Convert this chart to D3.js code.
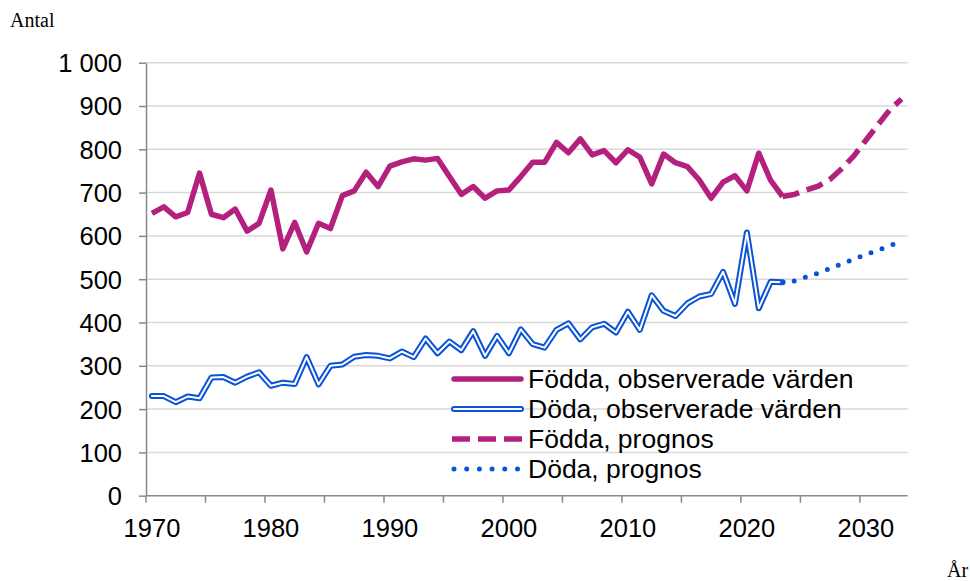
<!DOCTYPE html>
<meta charset="utf-8">
<style>
body { margin: 0; background: #fff; }
.tick text { font: 25.5px "Liberation Sans", Arial, sans-serif; fill: #000; }
.grid line { stroke: #d9d9d9; stroke-width: 1.5; }
.legend text { font: 26.5px "Liberation Sans", Arial, sans-serif; fill: #000; }
.title { font: 20px "Liberation Serif", "Times New Roman", serif; fill: #000; }
</style>
<head>
<script src="https://cdn.jsdelivr.net/npm/d3@7"></script>
</head>
<body>
<script>
var obsYears = d3.range(1970, 2024);
var progYears = d3.range(2023, 2034);

var foddaObs = [652, 667, 644, 654, 745, 650, 642, 662, 611, 629,
                706, 570, 631, 563, 629, 617, 693, 704, 747, 714,
                761, 771, 778, 775, 779, 737, 696, 714, 687, 704,
                706, 737, 770, 770, 816, 792, 824, 787, 797, 769,
                799, 782, 720, 789, 769, 760, 729, 687, 724, 739,
                704, 791, 728, 691];
var dodaObs = [230, 230, 216, 229, 225, 273, 274, 261, 275, 285,
               254, 261, 258, 320, 257, 300, 303, 321, 325, 323,
               317, 333, 320, 363, 329, 356, 336, 380, 323, 369,
               329, 384, 350, 342, 383, 398, 361, 389, 397, 377,
               425, 383, 463, 427, 415, 444, 460, 466, 517, 443,
               608, 433, 494, 493];
var foddaProg = [691, 696, 706, 715, 731, 756, 785, 821, 856, 891, 916];
var dodaProg = [493, 496, 505, 514, 525, 536, 546, 557, 567, 577, 588];

var yTicks = [0, 100, 200, 300, 400, 500, 600, 700, 800, 900, 1000];
var xLabels = [1970, 1980, 1990, 2000, 2010, 2020, 2030];
var xTickYears = d3.range(1970, 2031, 5);
var legendLabels = ["Födda, observerade värden", "Döda, observerade värden", "Födda, prognos", "Döda, prognos"];

var magenta = "#b3207e", blue = "#0b53d6";
var margin = {top: 62.7, left: 146, right: 62.5, bottom: 85.3},
    width = 970 - margin.left - margin.right,
    height = 581 - margin.top - margin.bottom;

var svg = d3.select("body").append("svg")
    .attr("width", 970)
    .attr("height", 581);

var g = svg.append("g")
    .attr("transform", "translate(" + margin.left + "," + margin.top + ")");

var x = d3.scaleBand().domain(d3.range(1970, 2034)).range([0, width]);
var y = d3.scaleLinear().domain([0, 1000]).range([height, 0]);
function cx(yr) { return x(yr) + x.bandwidth() / 2; }

// gridlines
g.append("g").attr("class", "grid")
  .selectAll("line").data(yTicks.slice(1))
  .enter().append("line")
    .attr("x1", 0).attr("x2", width)
    .attr("y1", d => y(d)).attr("y2", d => y(d));

// y axis
var yAxis = g.append("g")
    .call(d3.axisLeft(y).tickValues(yTicks).tickSize(7).tickSizeOuter(0).tickPadding(17)
      .tickFormat(d => d === 1000 ? "1 000" : d));
yAxis.selectAll("text").attr("dy", "0.35em");

// x axis
var xAxis = g.append("g").attr("transform", "translate(0," + height + ")");
xAxis.append("line").attr("x1", 0).attr("x2", width).attr("stroke", "#898989").attr("stroke-width", 1.5);
xAxis.selectAll("line.tk").data(xTickYears).enter().append("line")
    .attr("class", "tk")
    .attr("x1", d => x(d)).attr("x2", d => x(d))
    .attr("y1", 0).attr("y2", 7)
    .attr("stroke", "#898989").attr("stroke-width", 1.5);
xAxis.selectAll("text").data(xLabels).enter().append("text")
    .attr("x", d => cx(d)).attr("y", 41)
    .attr("text-anchor", "middle")
    .style("font", "25.5px 'Liberation Sans', Arial, sans-serif")
    .text(d => d);

yAxis.select(".domain").attr("stroke", "#898989").attr("stroke-width", 1.5);
yAxis.selectAll(".tick line").attr("stroke", "#898989").attr("stroke-width", 1.5);

var line = d3.line().x(d => cx(d[0])).y(d => y(d[1]));

// döda observed (double line)
var dodaPts = d3.zip(obsYears, dodaObs);
g.append("path").attr("d", line(dodaPts)).attr("fill", "none")
    .attr("stroke", blue).attr("stroke-width", 6).attr("stroke-linejoin", "round").attr("stroke-linecap", "round");
g.append("path").attr("d", line(dodaPts)).attr("fill", "none")
    .attr("stroke", "#fff").attr("stroke-width", 2).attr("stroke-linejoin", "round").attr("stroke-linecap", "round");

// döda prognos
g.append("path").attr("d", line(d3.zip(progYears, dodaProg))).attr("fill", "none")
    .attr("stroke", blue).attr("stroke-width", 5).attr("stroke-linecap", "round")
    .attr("stroke-dasharray", "0 11.7");

// födda observed
g.append("path").attr("d", line(d3.zip(obsYears, foddaObs))).attr("fill", "none")
    .attr("stroke", magenta).attr("stroke-width", 5.5).attr("stroke-linejoin", "round");

// födda prognos
g.append("path").attr("d", line(d3.zip(progYears, foddaProg))).attr("fill", "none")
    .attr("stroke", magenta).attr("stroke-width", 5.5)
    .attr("stroke-dasharray", "17 8");

// legend
var legend = svg.append("g").attr("class", "legend").attr("transform", "translate(452,379)");
var rows = legend.selectAll("g").data(legendLabels).enter().append("g")
    .attr("transform", (d, i) => "translate(0," + i * 30 + ")");
rows.append("text").attr("x", 76).attr("dy", "0.35em").text(d => d);

legend.append("line").attr("x1", 2).attr("x2", 69).attr("y1", 0).attr("y2", 0)
    .attr("stroke", magenta).attr("stroke-width", 5.5).attr("stroke-linecap", "round");
legend.append("line").attr("x1", 2).attr("x2", 69).attr("y1", 30).attr("y2", 30)
    .attr("stroke", blue).attr("stroke-width", 6).attr("stroke-linecap", "round");
legend.append("line").attr("x1", 2).attr("x2", 69).attr("y1", 30).attr("y2", 30)
    .attr("stroke", "#fff").attr("stroke-width", 2).attr("stroke-linecap", "round");
legend.append("line").attr("x1", 0).attr("x2", 70).attr("y1", 60).attr("y2", 60)
    .attr("stroke", magenta).attr("stroke-width", 5.5).attr("stroke-dasharray", "18 8");
legend.append("line").attr("x1", 2).attr("x2", 70).attr("y1", 90).attr("y2", 90)
    .attr("stroke", blue).attr("stroke-width", 5).attr("stroke-linecap", "round")
    .attr("stroke-dasharray", "0 12.7");

// axis titles
svg.append("text").attr("class", "title").attr("x", 10).attr("y", 27).text("Antal");
svg.append("text").attr("class", "title").attr("x", 947).attr("y", 577).text("År");
</script>
</body>
</html>
